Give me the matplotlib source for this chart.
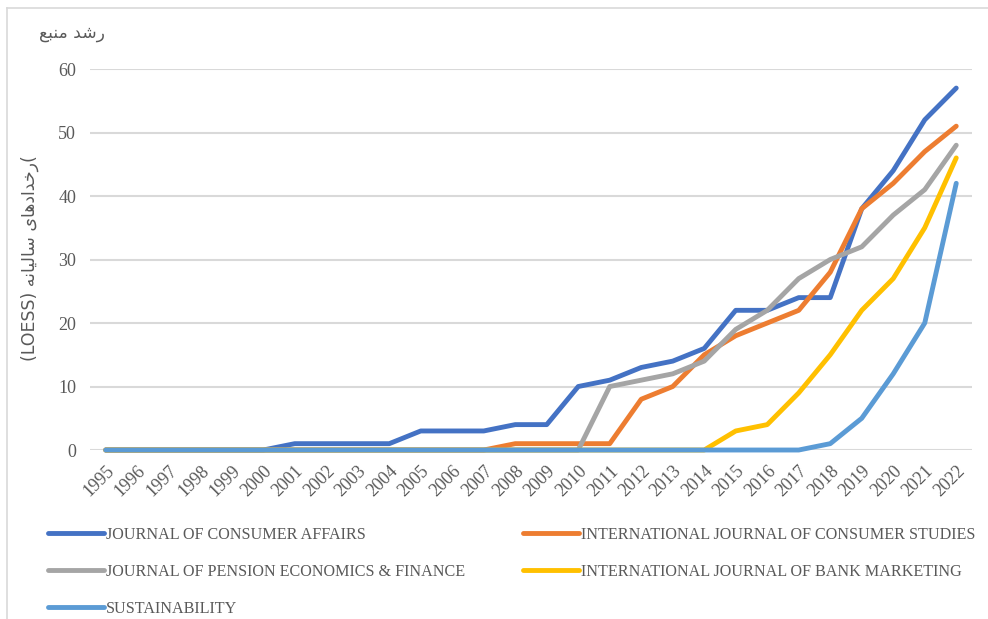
"""Annual source growth by journal, 1995-2022."""
import matplotlib

matplotlib.use("Agg")
import matplotlib.pyplot as plt
from matplotlib.lines import Line2D

years = list(range(1995, 2023))

consumer_affairs = [0, 0, 0, 0, 0, 0, 1, 1, 1, 1, 3, 3, 3, 4, 4, 10, 11, 13, 14, 16,
                    22, 22, 24, 24, 38, 44, 52, 57]
consumer_studies = [0, 0, 0, 0, 0, 0, 0, 0, 0, 0, 0, 0, 0, 1, 1, 1, 1, 8, 10, 15,
                    18, 20, 22, 28, 38, 42, 47, 51]
pension_econ = [0, 0, 0, 0, 0, 0, 0, 0, 0, 0, 0, 0, 0, 0, 0, 0, 10, 11, 12, 14,
                19, 22, 27, 30, 32, 37, 41, 48]
bank_marketing = [0, 0, 0, 0, 0, 0, 0, 0, 0, 0, 0, 0, 0, 0, 0, 0, 0, 0, 0, 0,
                  3, 4, 9, 15, 22, 27, 35, 46]
sustainability = [0, 0, 0, 0, 0, 0, 0, 0, 0, 0, 0, 0, 0, 0, 0, 0, 0, 0, 0, 0,
                  0, 0, 0, 1, 5, 12, 20, 42]

series = [
    ("JOURNAL OF CONSUMER AFFAIRS", consumer_affairs, "#4472C4"),
    ("INTERNATIONAL JOURNAL OF CONSUMER STUDIES", consumer_studies, "#ED7D31"),
    ("JOURNAL OF PENSION ECONOMICS & FINANCE", pension_econ, "#A5A5A5"),
    ("INTERNATIONAL JOURNAL OF BANK MARKETING", bank_marketing, "#FFC000"),
    ("SUSTAINABILITY", sustainability, "#5B9BD5"),
]

# Persian text written in shaped presentation forms, visual order
title_text = "\uFECA\uFE92\uFEE8\uFEE3 \uFEAA\uFEB7\uFEAD"  # رشد منبع
ylabel_text = ("(LOESS) "
               "\uFEEA\uFEE7\uFE8E\uFEF4\uFEDF\uFE8E\uFEB3 "          # سالیانه
               "\uFEEF\uFE8E\uFEEB\uFEA9\uFE8D\uFEAA\uFEA7\uFEAD(")   # رخدادهای

SERIF = ["Liberation Serif", "DejaVu Serif"]
TEXT_COLOR = "#595959"

fig = plt.figure(figsize=(9.88, 6.19), dpi=100)
ax = fig.add_axes([0.0911, 0.273, 0.8927, 0.6155])

for label, values, color in series:
    ax.plot(years, values, color=color, linewidth=3.5, label=label,
            solid_capstyle="round", solid_joinstyle="round", clip_on=False, zorder=3)

ax.set_xlim(1994.5, 2022.5)
ax.set_ylim(0, 60)
ax.set_yticks(range(0, 61, 10))
ax.set_xticks(years)
ax.grid(axis="y", color="#D9D9D9", linewidth=1.5)
ax.set_axisbelow(True)
for s in ax.spines.values():
    s.set_visible(False)
ax.tick_params(axis="both", length=0, colors=TEXT_COLOR)
ax.tick_params(axis="y", pad=10)
ax.tick_params(axis="x", pad=9)
for t in ax.get_yticklabels():
    t.set_fontfamily(SERIF)
    t.set_fontsize(13)
ax.set_xticklabels([str(y) for y in years], rotation=45, ha="right",
                   rotation_mode="anchor", fontfamily=SERIF, fontsize=13,
                   color=TEXT_COLOR)

fig.text(0.106, 1 - 33 / 619, title_text, ha="right", va="center",
         fontsize=12.3, color=TEXT_COLOR, family=["DejaVu Sans"])
fig.text(30 / 988, 1 - 258 / 619, ylabel_text, rotation=90, ha="center",
         va="center", fontsize=12.5, color=TEXT_COLOR, family=["DejaVu Sans"])

# legend: two columns placed by hand, row order as in the original
handles = {lab: Line2D([], [], color=c, linewidth=3.5, solid_capstyle="round")
           for lab, _, c in series}
cols = [
    ([series[0][0], series[2][0], series[4][0]], 48 / 988),
    ([series[1][0], series[3][0]], 523 / 988),
]
for labels, xpos in cols:
    leg = fig.legend([handles[l] for l in labels], labels, loc="upper left",
                     bbox_to_anchor=(xpos, 1 - 527 / 619), frameon=False,
                     prop={"family": SERIF, "size": 11.6}, handlelength=3.5,
                     handletextpad=0.12, labelspacing=1.3, borderpad=0,
                     borderaxespad=0)
    for t in leg.get_texts():
        t.set_color(TEXT_COLOR)

# thin frame on left and top, as in the source image
fig.add_artist(Line2D([7 / 988, 7 / 988], [0, 1 - 8 / 619], color="#D9D9D9",
                      linewidth=1.2))
fig.add_artist(Line2D([7 / 988, 1], [1 - 8 / 619, 1 - 8 / 619], color="#D9D9D9",
                      linewidth=1.2))

fig.savefig("out.png", dpi=100)
